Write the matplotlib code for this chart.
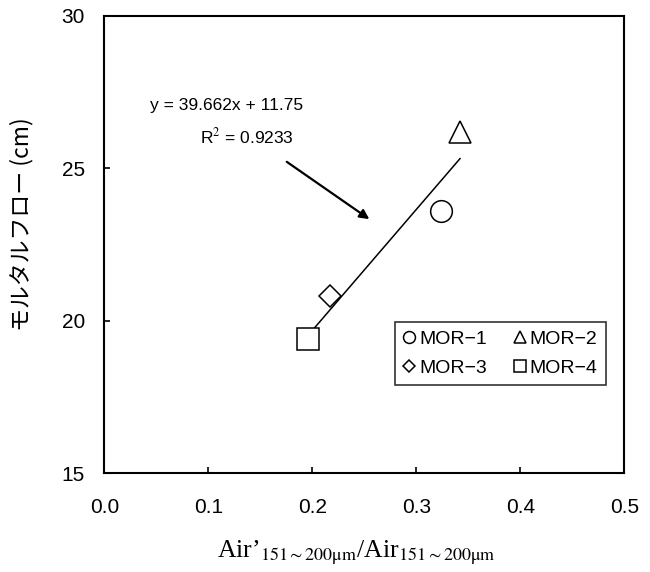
import matplotlib
matplotlib.use("Agg")
import matplotlib.pyplot as plt
import numpy as np

# data
labels = ["MOR−1", "MOR−2", "MOR−3", "MOR−4"]
markers = ["o", "^", "D", "s"]
air_ratio = [0.324, 0.342, 0.217, 0.196]
mortar_flow = [23.6, 26.2, 20.8, 19.4]

# trend line as printed on the chart
slope = 39.662
intercept = 11.75
r2 = 0.9233

x_ticks = [0.0, 0.1, 0.2, 0.3, 0.4, 0.5]
y_ticks = [15, 20, 25, 30]

jp = ["Noto Sans CJK JP", "DejaVu Sans"]
sans = ["Liberation Sans", "DejaVu Sans"]
plt.rcParams["mathtext.fontset"] = "stix"

fig = plt.figure(figsize=(6.5, 5.72), dpi=100)
ax = fig.add_axes([0.1605, 0.1726, 0.8, 0.8])

marker_sizes = {"o": 15.6, "^": 16.3, "D": 11.0, "s": 15.6}
handles = []
for lab, mk, x, y in zip(labels, markers, air_ratio, mortar_flow):
    h, = ax.plot(x, y, linestyle="none", marker=mk, markersize=marker_sizes[mk],
                 markerfacecolor="white", markeredgecolor="black",
                 markeredgewidth=1.1, label=lab, zorder=3)
    handles.append(h)

# linear trend line over the data range
xl = np.array([min(air_ratio), max(air_ratio)])
ax.plot(xl, slope * xl + intercept, color="black", lw=1.1, zorder=2)

ax.text(0.118, 27.07, f"y = {slope}x + {intercept}", ha="center", va="center",
        fontsize=12.5, family=sans)
ax.text(0.1367, 26.03, f"R$^2$ = {r2}", ha="center", va="center",
        fontsize=12.5, family=sans)
ax.annotate("", xy=(0.2548, 23.33), xytext=(0.1754, 25.21),
            arrowprops=dict(arrowstyle="-|>", color="black", lw=1.6,
                            mutation_scale=14, shrinkA=0, shrinkB=0))

ax.set_xlim(0, 0.5)
ax.set_ylim(15, 30)
ax.set_xticks(x_ticks)
ax.set_xticklabels([f"{v:.1f}" for v in x_ticks], family=sans, fontsize=15)
ax.set_yticks(y_ticks)
ax.set_yticklabels([str(v) for v in y_ticks], family=sans, fontsize=15)
ax.tick_params(axis="x", direction="in", length=4, width=1.2, pad=18)
ax.tick_params(axis="y", direction="in", length=4, width=1.2, pad=14)
for sp in ax.spines.values():
    sp.set_linewidth(1.5)

# row-wise order: MOR-1, MOR-2 / MOR-3, MOR-4
order = [0, 2, 1, 3]
leg = ax.legend([handles[i] for i in order], [labels[i] for i in order],
                ncol=2, loc="upper left", bbox_to_anchor=(0.54, 0.352),
                prop={"family": sans, "size": 14}, markerscale=0.55,
                frameon=True, fancybox=False, edgecolor="black",
                handlelength=0.6, handletextpad=0.2, columnspacing=1.4,
                borderpad=0.45, labelspacing=0.55)
leg.get_frame().set_linewidth(1.2)

fig.text(0.5485, 0.033,
         r"Air’$_{151\sim200\mathrm{\mu m}}$/Air$_{151\sim200\mathrm{\mu m}}$",
         ha="center", va="center", fontsize=18.5, family="Liberation Serif")
fig.text(0.0333, 0.6075, "モルタルフロー (cm)", rotation=90,
         ha="center", va="center", fontsize=16.5, family=jp)

fig.savefig("out.png", dpi=100)
